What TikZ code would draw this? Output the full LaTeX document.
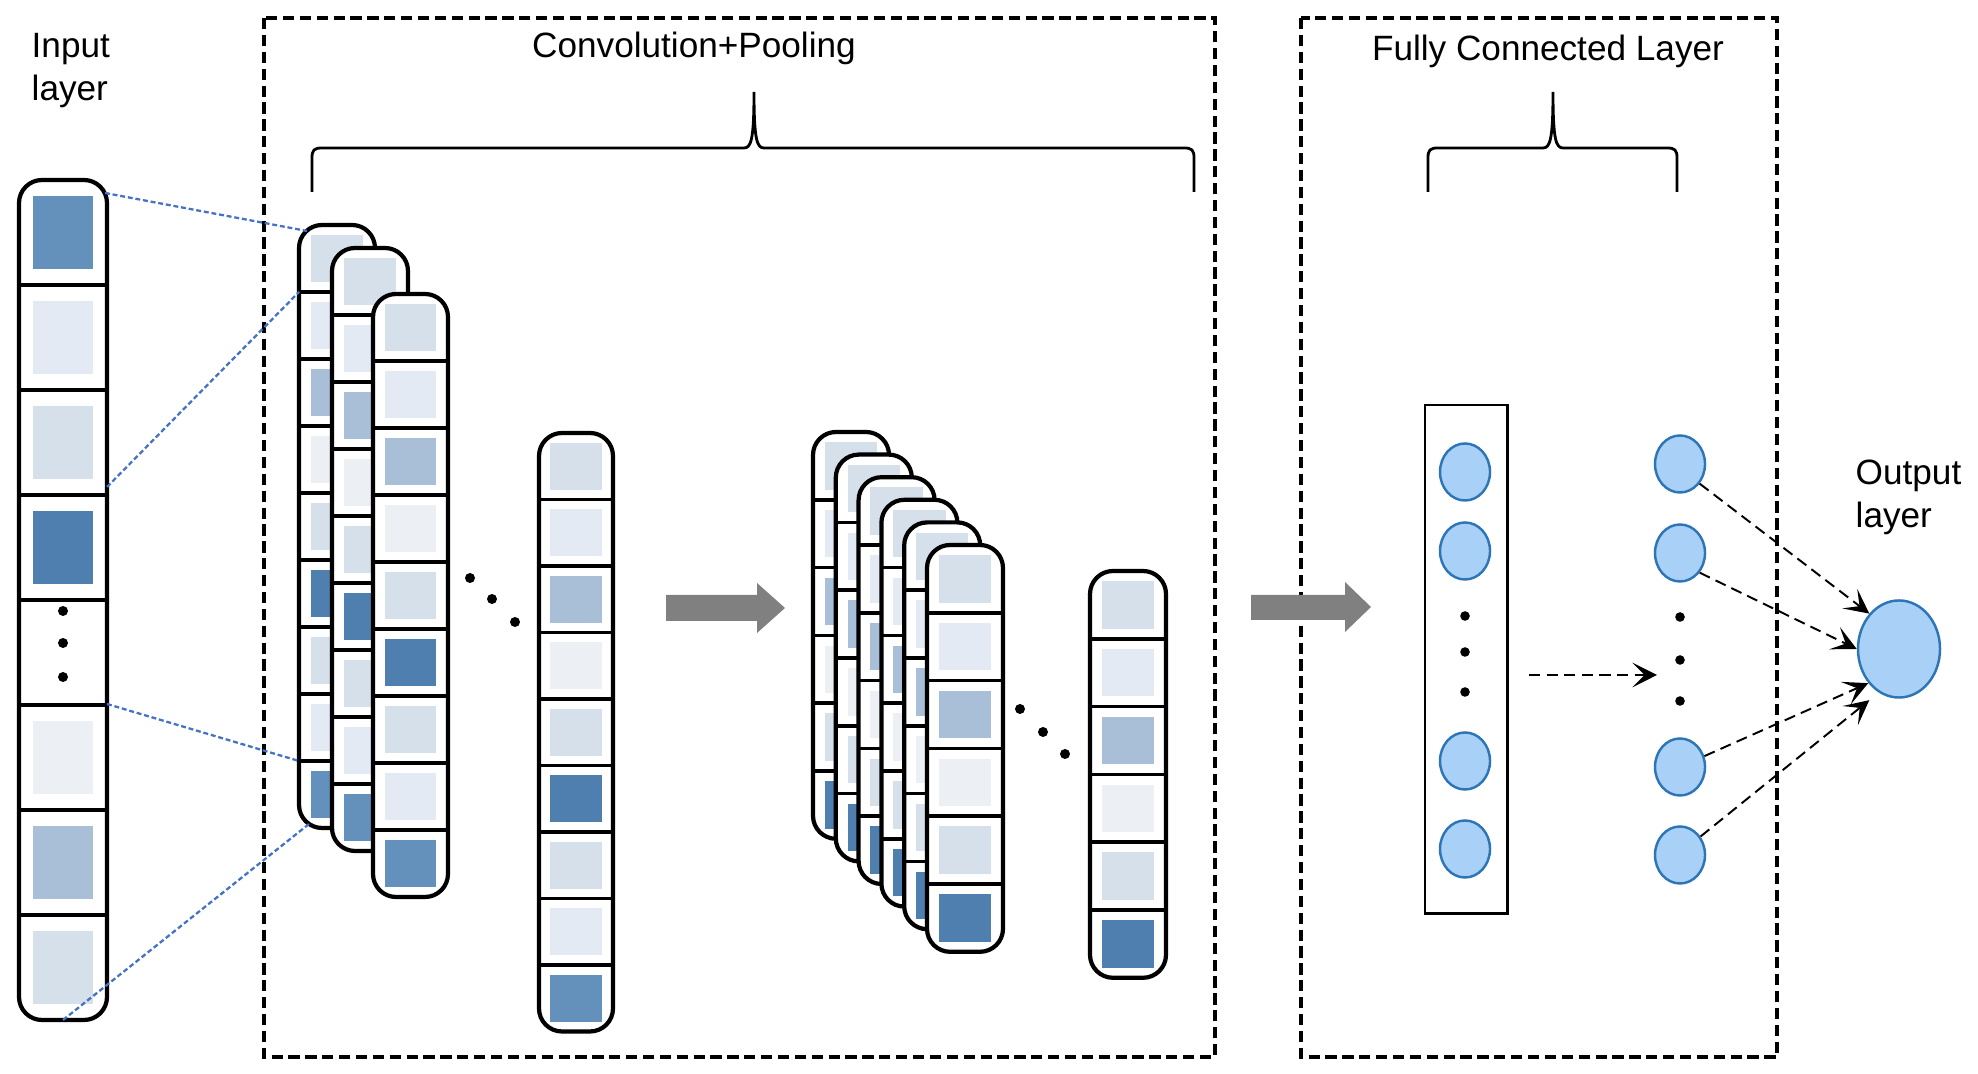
\documentclass[tikz,border=0pt]{standalone}
\usepackage{fontspec}
\setmainfont{Liberation Sans}
\usetikzlibrary{arrows.meta,calc,shapes.geometric}

\definecolor{sqA}{HTML}{4F7FAE}
\definecolor{sqB}{HTML}{6391BB}
\definecolor{sqC}{HTML}{A9BFD8}
\definecolor{sqD}{HTML}{D6E0EB}
\definecolor{sqE}{HTML}{E3EAF3}
\definecolor{sqF}{HTML}{ECF0F5}
\definecolor{linkblue}{HTML}{4472C4}
\definecolor{neuronfill}{HTML}{A9D1F7}
\definecolor{neuronedge}{HTML}{2E75B6}
\definecolor{arrowgray}{HTML}{808080}

\tikzset{
  colbox/.style={draw, line width=1.2pt, fill=white, rounded corners=0.23cm, inner sep=0pt, outer sep=0pt},
  cellsep/.style={line width=1pt},
  dashbox/.style={line width=1pt, dash pattern=on 3.2pt off 1.6pt},
  bluelink/.style={draw=linkblue, line width=0.65pt, dash pattern=on 1.4pt off 0.8pt},
  neuron/.style={ellipse, draw=neuronedge, fill=neuronfill, line width=0.7pt, minimum width=0.5cm, minimum height=0.57cm, inner sep=0pt},
  fcarrow/.style={-{Stealth[length=7pt,width=7pt,inset=3.5pt]}, line width=0.55pt, dash pattern=on 3.2pt off 1.8pt},
  lbl/.style={font=\fontsize{10}{12.2}\selectfont, inner sep=0pt},
  brace/.style={line width=0.8pt}
}

% name, left x, top y, width, cell height, cells, colours
\newcommand{\featcol}[7]{%
  \node[colbox, anchor=north west, minimum width=#4*0.01cm, minimum height=#5*#6*0.01cm] (#1) at (#2,#3) {};
  \foreach \c [count=\i] in {#7}{
    \fill[\c] ($(#1.north west)+({0.155*#4},{(\i-1)*#5+0.15*#5})$) rectangle ++({0.69*#4},{0.7*#5});
  }
  \pgfmathtruncatemacro\ncut{#6-1}
  \foreach \i in {1,...,\ncut}{
    \draw[cellsep] ($(#1.north west)+(0,{\i*#5})$) -- ++(#4,0);
  }
}

\begin{document}
\begin{tikzpicture}[x=0.01cm, y=-0.01cm]
  \useasboundingbox (0,0) rectangle (1978,1074);

  \draw[dashbox] (264,18) rectangle (1215,1057);
  \draw[dashbox] (1301,18) rectangle (1777,1057);

  \node[lbl, align=left, anchor=north west] (inlbl) at (31,33) {Input\\layer};
  \node[lbl, anchor=base] (convlbl) at (694,58) {Convolution+Pooling};
  \node[lbl, anchor=base] (fclbl) at (1548,61) {Fully Connected Layer};
  \node[lbl, align=left, anchor=north west] (outlbl) at (1855,459) {Output\\layer};

  \draw[brace] (312,192) -- (312,158) .. controls (312,150) and (314,148) .. (322,148) -- (744,148)
    .. controls (751,148) and (754,140) .. (754,92) .. controls (754,140) and (757,148) .. (764,148)
    -- (1184,148) .. controls (1192,148) and (1194,150) .. (1194,158) -- (1194,192);
  \draw[brace] (1428,192) -- (1428,158) .. controls (1428,150) and (1430,148) .. (1438,148) -- (1543,148)
    .. controls (1550,148) and (1553,140) .. (1553,92) .. controls (1553,140) and (1556,148) .. (1563,148)
    -- (1667,148) .. controls (1675,148) and (1677,150) .. (1677,158) -- (1677,192);

  \featcol{inp}{19}{180}{88}{105}{8}{sqB,sqE,sqD,sqA,white,sqF,sqC,sqD}
  \fill (63,611) circle (0.05cm);
  \fill (63,643) circle (0.05cm);
  \fill (63,677) circle (0.05cm);

  \featcol{convA}{299}{225}{76}{67}{9}{sqD,sqE,sqC,sqF,sqD,sqA,sqD,sqE,sqB}
  \featcol{convB}{332}{248}{76}{67}{9}{sqD,sqE,sqC,sqF,sqD,sqA,sqD,sqE,sqB}
  \featcol{convC}{373}{294}{75}{67}{9}{sqD,sqE,sqC,sqF,sqD,sqA,sqD,sqE,sqB}
  \fill (470,578) circle (0.05cm);
  \fill (492,599) circle (0.05cm);
  \fill (515,622) circle (0.05cm);
  \featcol{poolA}{539}{433}{74}{66.5}{9}{sqD,sqE,sqC,sqF,sqD,sqA,sqD,sqE,sqB}

  \fill[arrowgray] (666,595) -- (757,595) -- (757,583) -- (785,608) -- (757,633) -- (757,621) -- (666,621) -- cycle;

  \foreach \k in {0,...,5}{
    \featcol{convS\k}{813+22.8*\k}{432+22.6*\k}{76}{67.8}{6}{sqD,sqE,sqC,sqF,sqD,sqA}
  }
  \fill (1020,709) circle (0.05cm);
  \fill (1043,732) circle (0.05cm);
  \fill (1065,754) circle (0.05cm);
  \featcol{poolB}{1090}{571}{76}{67.8}{6}{sqD,sqE,sqC,sqF,sqD,sqA}

  \fill[arrowgray] (1251,595) -- (1345,595) -- (1345,582) -- (1371,607) -- (1345,632) -- (1345,620) -- (1251,620) -- cycle;

  \draw[bluelink] ($(inp.north east)+(-2,13)$) -- ($(convA.north west)+(8,6)$);
  \draw[bluelink] ($(inp.north east)+(0,307)$) -- ($(convA.north west)+(0,67)$);
  \draw[bluelink] ($(inp.north east)+(0,524)$) -- ($(convA.north west)+(0,536)$);
  \draw[bluelink] (inp.south) -- ($(convA.south west)+(10,-4)$);

  \node[draw, line width=0.7pt, minimum width=0.82cm, minimum height=5.08cm, anchor=north west, inner sep=0pt] (fcbox) at (1424,404) {};
  \node[neuron] (h1) at (1465,472) {};
  \node[neuron] (h2) at (1465,551) {};
  \node[neuron] (h3) at (1465,761) {};
  \node[neuron] (h4) at (1465,849) {};
  \fill (1465,616) circle (0.048cm);
  \fill (1465,652) circle (0.048cm);
  \fill (1465,692) circle (0.048cm);

  \node[neuron] (o1) at (1680,464) {};
  \node[neuron] (o2) at (1680,553) {};
  \node[neuron] (o3) at (1680,767) {};
  \node[neuron] (o4) at (1680,855) {};
  \fill (1680,617) circle (0.048cm);
  \fill (1680,660) circle (0.048cm);
  \fill (1680,701) circle (0.048cm);

  \node[neuron, minimum width=0.82cm, minimum height=0.97cm] (out) at (1899,649) {};

  \coordinate (fcfrom) at (1529,675);
  \coordinate (fcto) at (1657,675);
  \draw[fcarrow] (fcfrom) -- (fcto);
  \draw[fcarrow] (o1.-45) -- (out.130);
  \draw[fcarrow] (o2.-45) -- (out.180);
  \draw[fcarrow] (o3.24) -- (out.228);
  \draw[fcarrow, shorten >=0.12cm] (o4.42) -- (out.245);
\end{tikzpicture}
\end{document}
